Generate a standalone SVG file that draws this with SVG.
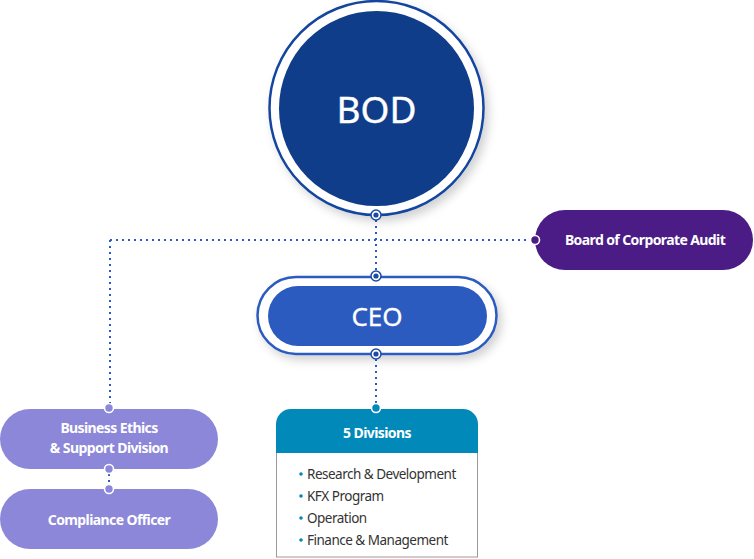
<svg xmlns="http://www.w3.org/2000/svg" width="754" height="559" viewBox="0 0 754 559">
<defs>
<filter id="sh" x="-20%" y="-20%" width="150%" height="150%">
<feDropShadow dx="4" dy="5" stdDeviation="5" flood-color="#000" flood-opacity="0.18"/>
</filter>
<style>
.lbl{font-family:"Noto Sans","Liberation Sans",sans-serif;font-weight:bold;fill:#fff;text-anchor:middle;letter-spacing:-0.6px}
.big{font-family:"Noto Sans","Liberation Sans",sans-serif;fill:#fff;text-anchor:middle}
.item{font-family:"Noto Sans","Liberation Sans",sans-serif;font-size:13.5px;fill:#333;letter-spacing:-0.5px}
.dot{stroke:#2c5bbf;stroke-width:2;stroke-dasharray:2 4;fill:none}
.cb{fill:#fff;stroke:#1d4aa6;stroke-width:1.5}
.cbi{fill:#1d4aa6}
.cw{stroke:#fff;stroke-width:1.6}
</style>
</defs>
<g id="connectors">
<path class="dot" d="M376 220V272"/>
<path class="dot" d="M110 240H530"/>
<path class="dot" d="M110 240V404"/>
<path class="dot" d="M376 359V404"/>
<path class="dot" d="M109 474V485"/>
</g>
<g id="bod">
<circle cx="376.5" cy="108" r="107" fill="#fff" stroke="#1245a0" stroke-width="2.5" filter="url(#sh)"/>
<circle cx="376.5" cy="108.5" r="97.5" fill="#0f3d89"/>
<text class="big" x="376.5" y="123" font-size="37" stroke="#fff" stroke-width="0.4">BOD</text>
<circle class="cb" cx="376" cy="215" r="5"/><circle class="cbi" cx="376" cy="215" r="2.6"/>
</g>
<g id="ceo">
<rect x="257.5" y="277" width="239" height="77" rx="38.5" fill="#fff" stroke="#2c5bbf" stroke-width="2.5" filter="url(#sh)"/>
<rect x="268" y="286" width="219" height="60" rx="30" fill="#2c5bbf"/>
<text class="big" x="377" y="326" font-size="26" stroke="#fff" stroke-width="0.3">CEO</text>
<circle class="cb" cx="376" cy="276" r="5"/><circle class="cbi" cx="376" cy="276" r="2.6"/>
<circle class="cb" cx="376" cy="354" r="5"/><circle class="cbi" cx="376" cy="354" r="2.6"/>
</g>
<g id="audit">
<rect x="535" y="210" width="218" height="60" rx="30" fill="#4b1c85"/>
<text class="lbl" x="645" y="245" font-size="14">Board of Corporate Audit</text>
<circle class="cw" cx="535" cy="240" r="4.5" fill="#4b1c85"/>
</g>
<g id="ethics">
<rect x="0" y="409" width="218" height="60" rx="30" fill="#8c87d9"/>
<text class="lbl" x="109" y="433" font-size="14">Business Ethics</text>
<text class="lbl" x="109" y="453" font-size="14">&amp; Support Division</text>
<circle class="cw" cx="109" cy="408" r="4.5" fill="#8c87d9"/>
<circle class="cw" cx="109" cy="469" r="4.5" fill="#8c87d9"/>
</g>
<g id="compliance">
<rect x="0" y="489" width="218" height="60" rx="30" fill="#8c87d9"/>
<text class="lbl" x="109" y="525" font-size="14">Compliance Officer</text>
<circle class="cw" cx="109" cy="489" r="4.5" fill="#8c87d9"/>
</g>
<g id="divisions">
<rect x="276.5" y="430" width="201" height="127" fill="#fff" stroke="#9a9a9a" stroke-width="1"/>
<path d="M276 453V424a15 15 0 0 1 15-15H463a15 15 0 0 1 15 15V453Z" fill="#0089b9"/>
<text class="lbl" x="377" y="438" font-size="14">5 Divisions</text>
<circle class="cw" cx="376" cy="408" r="4.5" fill="#0089b9"/>
<g fill="#0089b9">
<circle cx="301" cy="474" r="1.8"/><circle cx="301" cy="496" r="1.8"/><circle cx="301" cy="518" r="1.8"/><circle cx="301" cy="540" r="1.8"/>
</g>
<text class="item" x="307" y="478.5">Research &amp; Development</text>
<text class="item" x="307" y="500.5">KFX Program</text>
<text class="item" x="307" y="522.5">Operation</text>
<text class="item" x="307" y="544.5">Finance &amp; Management</text>
</g>
</svg>
